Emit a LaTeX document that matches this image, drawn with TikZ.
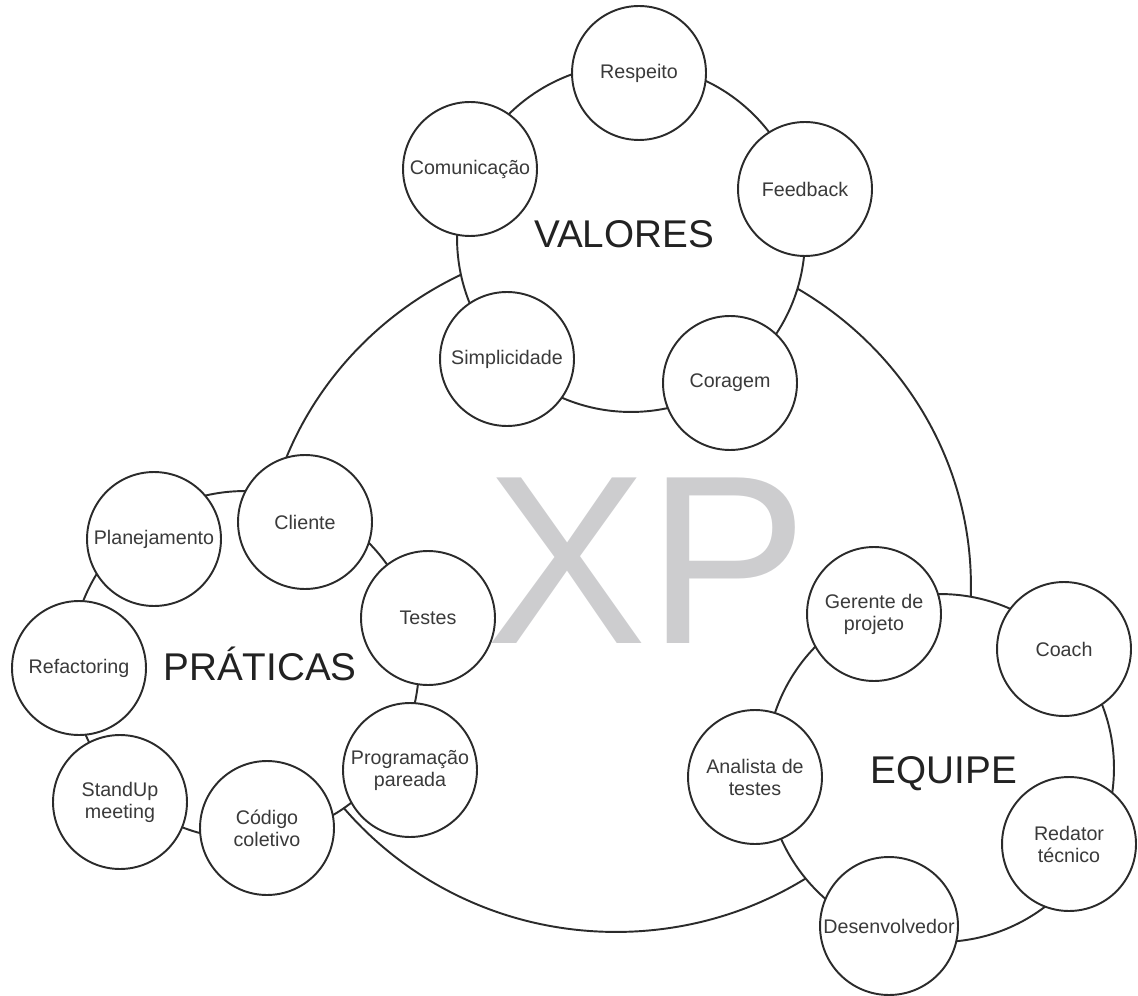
\documentclass[tikz,border=0pt]{standalone}
\usepackage{fontspec}
\setmainfont{Liberation Sans}
\usetikzlibrary{shapes.geometric}
\definecolor{linec}{HTML}{2B2B2B}
\definecolor{txtc}{HTML}{3A3A3A}
\definecolor{bigc}{HTML}{222222}
\definecolor{xpc}{HTML}{CDCDCF}
\begin{document}
\begin{tikzpicture}[x=0.02cm, y=-0.02cm,
  outline/.style={draw=linec, line width=1.1pt},
  ring/.style={outline, circle, fill=white, minimum size=6.96cm, inner sep=0pt},
  item/.style={outline, circle, fill=white, minimum size=2.68cm, inner sep=0pt, align=center, text=txtc, font=\fontsize{11.2pt}{12.5pt}\selectfont},
  grouplabel/.style={anchor=base, inner sep=0pt, text=bigc, font=\fontsize{22pt}{26pt}\selectfont},
]
\useasboundingbox (0,0) rectangle (1138,996);
% big XP outline
\node[outline, ellipse, minimum width=14.2cm, minimum height=13.84cm, inner sep=0pt] (xp) at (616,586) {};
\node[inner sep=0pt, text=xpc, font=\fontsize{137pt}{140pt}\selectfont] (xplabel) at (647,561) {XP};
% three group rings
\node[ring] (valores) at (631,238) {};
\node[ring] (praticas) at (245,665) {};
\node[ring] (equipe) at (940,768) {};
\node[grouplabel] (valoreslabel) at (624,248) {VALORES};
\node[grouplabel] (praticaslabel) at (260,680) {PRÁTICAS};
\node[grouplabel] (equipelabel) at (944,783) {EQUIPE};
% VALORES
\node[item] (respeito) at (639,73) {Respeito};
\node[item] (feedback) at (805,189) {Feedback};
\node[item] (coragem) at (730,383) {Coragem};
\node[item] (simplicidade) at (507,359) {Simplicidade};
\node[item] (comunicacao) at (470,169) {Comunicação};
% PRATICAS
\node[item] (cliente) at (305,522) {Cliente};
\node[item] (planejamento) at (154,539) {Planejamento};
\node[item] (refactoring) at (79,668) {Refactoring};
\node[item] (standup) at (120,802) {StandUp\\meeting};
\node[item] (codigo) at (267,828) {Código\\coletivo};
\node[item] (programacao) at (410,770) {Programação\\pareada};
\node[item] (testes) at (428,618) {Testes};
% EQUIPE
\node[item] (gerente) at (874,614) {Gerente de\\projeto};
\node[item] (coach) at (1064,649) {Coach};
\node[item] (analista) at (755,777) {Analista de\\testes};
\node[item] (redator) at (1069,844) {Redator\\técnico};
\node[item, minimum size=2.76cm] (desenvolvedor) at (889,926) {Desenvolvedor};
\end{tikzpicture}
\end{document}
